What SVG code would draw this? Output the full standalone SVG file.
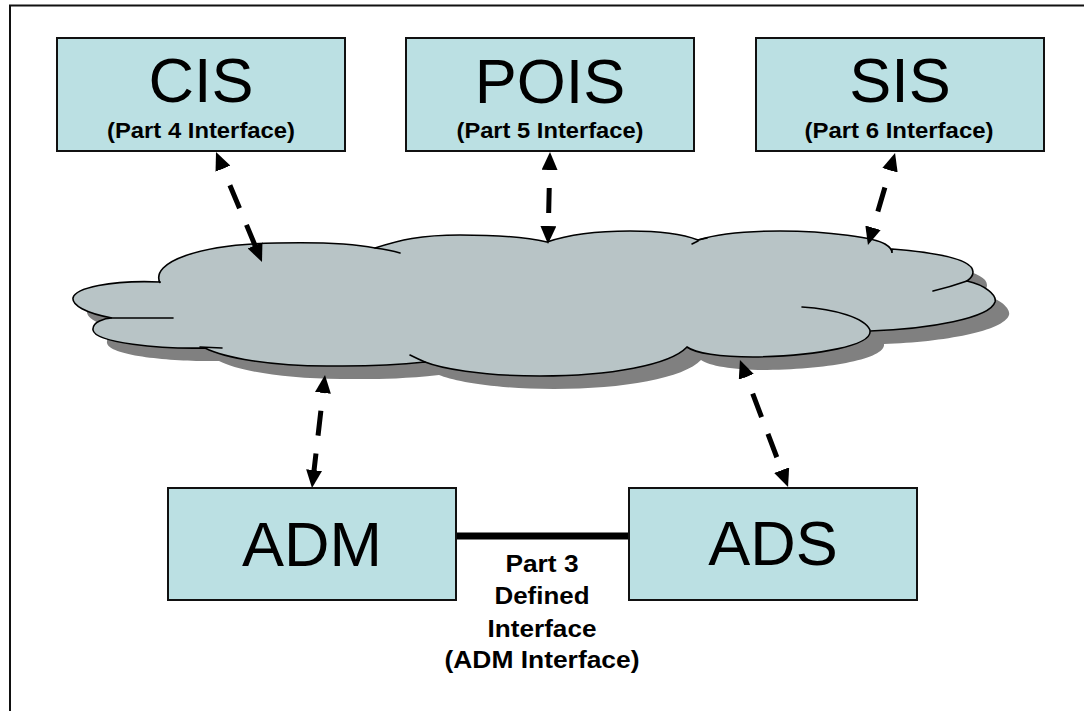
<svg xmlns="http://www.w3.org/2000/svg" width="1084" height="711" viewBox="0 0 1084 711">
<style>
.box{fill:#BBE0E3;stroke:#111;stroke-width:2}
.big{font-family:"Liberation Sans",Arial,sans-serif;font-size:63px;fill:#000;text-anchor:middle}
.lbl{font-family:"Liberation Sans",Arial,sans-serif;font-weight:bold;font-size:21.5px;fill:#000;text-anchor:middle}
.lbl2{font-family:"Liberation Sans",Arial,sans-serif;font-weight:bold;font-size:23.5px;fill:#000;text-anchor:middle}
.dash{fill:none;stroke:#000;stroke-width:5;stroke-dasharray:25 18;stroke-dashoffset:21;marker-start:url(#ah);marker-end:url(#ah)}
.inner{fill:none;stroke:#000;stroke-width:1.6;stroke-linecap:round}
</style>
<defs>
<marker id="ah" viewBox="0 0 18 16" refX="4" refY="8" markerWidth="18" markerHeight="16" markerUnits="userSpaceOnUse" orient="auto-start-reverse">
<path d="M0,0 L18,8 L0,16 z" fill="#000"/>
</marker>
<path id="cloudShape" d="M160,283 C150,262 200,244 277,243 C320,242 355,244 375,248 C400,240 420,235 460,235 C500,235 530,238 547,242 C570,234 600,231 630,231 C660,231 685,235 698,240 C720,233 750,231 780,231 C830,231 875,238 885,244 C890,247 892,250 892,253 L892,249 C930,252 973,258 973,272 C973,276 970,279 967,281 C985,285 997,295 995,302 C990,318 930,329 870,331 C872,345 820,356 753,357 C720,357 695,353 687,347 C670,365 610,376 540,376 C480,376 440,368 425,362 C380,367 350,366 327,366 C270,366 225,358 205,348 C160,349 95,343 93,330 C92,322 105,318 112,318 C85,313 72,305 73,298 C75,288 110,280 160,282 Z"/>
</defs>
<rect width="1084" height="711" fill="#fff"/>
<path d="M10,712 L10,5.5 L1086,5.5" fill="none" stroke="#111" stroke-width="2"/>

<g id="cloud">
<use href="#cloudShape" transform="translate(14,13)" fill="#808080"/>
<use href="#cloudShape" fill="#B8C4C6" stroke="#000" stroke-width="1.6"/>
<path class="inner" d="M112,318 C135,318 155,318 173,318"/>
<path class="inner" d="M200,347 L222,348"/>
<path class="inner" d="M375,248 Q390,250 400,253"/>
<path class="inner" d="M698,240 L707,238 M692,244 L698,241"/>
<path class="inner" d="M967,281 Q950,287 933,291"/>
<path class="inner" d="M802,307 C835,309 865,318 870,330"/>
<path class="inner" d="M410,355 Q418,359 425,362"/>
</g>

<g id="connectors">
<line class="dash" x1="221.4" y1="164.9" x2="256.6" y2="249.1"/>
<line class="dash" x1="549.7" y1="166" x2="548.3" y2="230"/>
<line class="dash" x1="891.1" y1="166.4" x2="871.9" y2="231.6"/>
<line class="dash" x1="323.4" y1="388.9" x2="313.6" y2="474.1"/>
<line class="dash" x1="744.9" y1="373.1" x2="783.1" y2="473.9"/>
<line x1="456" y1="536" x2="629" y2="536" stroke="#000" stroke-width="7"/>
<text class="lbl2" x="542" y="572" textLength="73" lengthAdjust="spacingAndGlyphs">Part 3</text>
<text class="lbl2" x="542" y="604" textLength="95" lengthAdjust="spacingAndGlyphs">Defined</text>
<text class="lbl2" x="542" y="637" textLength="109" lengthAdjust="spacingAndGlyphs">Interface</text>
<text class="lbl2" x="542" y="668" textLength="195" lengthAdjust="spacingAndGlyphs">(ADM Interface)</text>
</g>

<g id="cis">
<rect class="box" x="57" y="38" width="288" height="113"/>
<text class="big" x="201" y="102">CIS</text>
<text class="lbl" x="201" y="138" textLength="188" lengthAdjust="spacingAndGlyphs">(Part 4 Interface)</text>
</g>
<g id="pois">
<rect class="box" x="406" y="38" width="288" height="113"/>
<text class="big" x="550" y="103">POIS</text>
<text class="lbl" x="550" y="137.5" textLength="187" lengthAdjust="spacingAndGlyphs">(Part 5 Interface)</text>
</g>
<g id="sis">
<rect class="box" x="756" y="38" width="288" height="113"/>
<text class="big" x="900" y="102">SIS</text>
<text class="lbl" x="899" y="137.5" textLength="189" lengthAdjust="spacingAndGlyphs">(Part 6 Interface)</text>
</g>
<g id="adm">
<rect class="box" x="168" y="488" width="288" height="112"/>
<text class="big" x="312" y="566">ADM</text>
</g>
<g id="ads">
<rect class="box" x="629" y="488" width="288" height="112"/>
<text class="big" x="773" y="565">ADS</text>
</g>
</svg>
